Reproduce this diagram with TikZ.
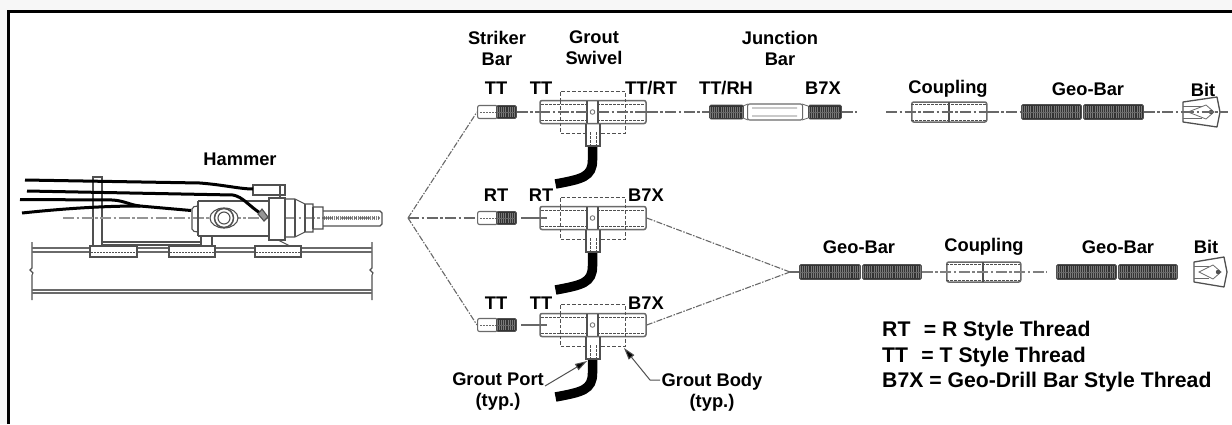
\documentclass[tikz,border=0pt]{standalone}
\usepackage{fontspec}
\setmainfont{Liberation Sans}
\usetikzlibrary{arrows.meta}
\definecolor{ln}{HTML}{505050}
\definecolor{cl}{HTML}{686868}
\tikzset{
  lbl/.style={font=\fontsize{18.3}{21}\selectfont\bfseries,inner sep=0pt,align=center,text=black},
  legend/.style={font=\fontsize{21.2}{25}\selectfont\bfseries,inner sep=0pt,anchor=west,text=black},
  hw/.style={draw=ln,line width=1.1pt},
  thin hw/.style={draw=ln!85,line width=0.8pt},
  hid/.style={draw=ln,line width=0.9pt,dash pattern=on 3.5pt off 2pt},
  center line/.style={draw=cl,line width=1.1pt,dash pattern=on 11pt off 2.5pt on 2.5pt off 2.5pt},
  fork line/.style={draw=cl,line width=1.1pt,dash pattern=on 6pt off 1.5pt on 1.5pt off 1.5pt},
  leader/.style={draw=ln,line width=1pt,-{Triangle[length=12pt,width=7pt,fill=black]}},
  hose/.style={draw=black,line width=9.5pt},
  cable/.style={draw=black,line width=3pt},
  barbody/.style={rectangle,draw=ln!85,fill=white,line width=1.5pt,rounded corners=2pt,inner sep=0pt},
  threadbody/.style={rectangle,draw=ln,fill=black!80,line width=0.9pt,rounded corners=1.5pt,inner sep=0pt},
}
\newcommand{\threadrun}[5]{%
  \node[threadbody,minimum width=#3pt-#2pt,minimum height=#5pt,anchor=west] (#1) at (#2,#4) {};
  \draw[draw=white!48!black,line width=#5pt-3pt,dash pattern=on 0.8pt off 1.3pt] (#2+1,#4) -- (#3-1,#4);
  \draw[draw=black!60,line width=0.6pt] (#2+1,#4) -- (#3-1,#4);
}
\newcommand{\strikerbar}[2]{%
  \node[barbody,line width=1.1pt,minimum width=20pt,minimum height=13pt,anchor=west] (#1) at (477,#2) {};
  \draw[thin hw,dash pattern=on 2pt off 1pt] (480,#2) -- (496,#2);
  \threadrun{#1t}{496}{516}{#2}{13}
}
\newcommand{\swivel}[2]{%
  \node[barbody,minimum width=106pt,minimum height=23pt] (#1) at (593,#2) {};
  \begin{scope}[shift={(0,#2)}]
    \draw[hid,dash pattern=on 3pt off 1pt] (541,-8) -- (645,-8) (541,8) -- (645,8);
    \fill[white] (587,-10) rectangle (598,10);
    \draw[hid] (560,-11) -- (560,-21) -- (625,-21) -- (625,21) -- (600,21) (586,21) -- (560,21) -- (560,-11);
    \fill[white] (588,-10) rectangle (597,10);
    \draw[hw,line width=1.2pt] (587,-11) -- (587,11) (598,-11) -- (598,11);
    \draw[thin hw] (592.5,0) circle (2.3);
    \draw[hw] (586,11.5) -- (586,34) -- (600,34) -- (600,11.5);
    \draw[hid,line width=0.7pt,dash pattern=on 2.5pt off 1.5pt] (590,20) -- (590,34) (596,20) -- (596,34);
    \draw[hose] (592.5,35) -- (592.5,48) .. controls (592.5,65) and (582,67) .. (555.5,72);
  \end{scope}
}
\newcommand{\couplingpart}[4]{%
  \node[barbody,minimum width=#3pt-#2pt,minimum height=20pt,anchor=west] (#1) at (#2,#4) {};
  \draw[hid,dash pattern=on 3pt off 1pt] (#2,#4-8) -- (#3,#4-8) (#2,#4+8) -- (#3,#4+8);
  \draw[draw=ln,line width=2pt] ({(#2+#3)/2},#4-10) -- ({(#2+#3)/2},#4+10);
}
\newcommand{\drillbit}[4]{%
  \begin{scope}[shift={(#2,#4)}]
    \coordinate (#1) at (0,0);
    \draw[hw,line width=1.3pt,fill=white,line join=round] (0,-10) -- ({#3-#2-3},-15) -- ({#3-#2},0) -- ({#3-#2-3},15) -- (0,10) -- cycle;
    \draw[thin hw] (5,0) -- ({#3-#2-14},-7) -- ({#3-#2-6},0) -- ({#3-#2-14},7) -- cycle;
    \draw[thin hw] (0,-6) -- ({#3-#2-18},-6) (0,6) -- ({#3-#2-18},6);
    \fill[ln] ({#3-#2-9},0) circle (2.2);
  \end{scope}
}
\begin{document}
\begin{tikzpicture}[x=1pt,y=-1pt]
\useasboundingbox (0,0) rectangle (1232,424);
\fill[black!3] (0,0) rectangle (1232,424);
\fill[white] (8,11) rectangle (1232,424);
\draw[black,line width=3pt] (8.5,424) -- (8.5,11) -- (1232,11);

% ---- hammer ----
\coordinate (hub) at (408,218);
\draw[hw] (32,242) -- (32,268) -- (30,270) -- (33,273) -- (32,275) -- (32,300);
\draw[hw] (372,242) -- (372,268) -- (370,270) -- (373,273) -- (372,275) -- (372,300);
\draw[hw,draw=ln!85] (32,248) -- (372,248) (32,252) -- (372,252);
\draw[hw,draw=ln!85] (32,290) -- (372,290) (32,293) -- (372,293);
\draw[hw,fill=white] (90,246) rectangle (137,257);
\draw[hw,fill=white] (169,246) rectangle (215,257);
\draw[hw,fill=white] (255,246) rectangle (301,257);
\draw[hid,line width=0.7pt,dash pattern=on 2pt off 1pt] (91,252) -- (136,252) (170,252) -- (214,252) (256,252) -- (300,252);
\draw[hw,fill=white] (93,177) rectangle (102,246);
\draw[hw] (102,242) -- (202,242) (102,245) -- (202,245);
\draw[hw,fill=white] (201,236) rectangle (212,246);
\draw[center line,draw=cl!70] (63,218) -- (380,218);
\draw[hw] (253,185) rectangle (285,195);
\draw[hw] (198,201) -- (270,201) (198,236) -- (270,236);
\draw[hw,rounded corners=2pt] (198,206) -- (192,207) -- (192,231) -- (198,232);
\draw[hw] (198,201) -- (198,236);
\draw[hw,fill=white] (269,198) rectangle (285,240);
\draw[hw] (280,185) -- (280,198);
\draw[hw] (285,199) -- (295,199) -- (305,204) -- (313,204) -- (313,207) -- (323,207) -- (323,229) -- (313,229) -- (313,232) -- (305,232) -- (295,237) -- (285,237);
\draw[hw] (295,199) -- (295,237) (305,204) -- (305,232) (313,207) -- (313,229);
\draw[hw] (323,211) -- (380,211) -- (382,213) -- (382,224) -- (380,226) -- (323,226);
\draw[ln,line width=4pt,dash pattern=on 1pt off 1pt,draw opacity=.7] (324,218) -- (380,218);
\draw[hw] (278,240) -- (290,246);
\draw[hw,fill=white] (224,218) ellipse (14 and 10);
\draw[hw,line width=1.5pt] (224,218) circle (9.5);
\draw[hw] (224,218) circle (6);
\draw[cable] (25,180) -- (200,183) .. controls (225,185) and (240,189) .. (253,189);
\draw[cable] (27,191) -- (233,195) .. controls (243,197) and (248,205) .. (260,213);
\draw[hw,fill=ln!60] (258,214) -- (262,209) -- (268,217) -- (264,221) -- cycle;
\draw[cable] (20,199.5) -- (113,200) .. controls (125,201) and (130,205) .. (140,206) -- (191,210.5);
\draw[cable] (22,213) .. controls (60,209) and (100,206) .. (140,206);

% ---- top row ----
\strikerbar{sa}{112}
\swivel{sw1}{112}
\threadrun{ja}{709}{743}{112}{14}
\node[barbody,line width=1.1pt,minimum width=55pt,minimum height=16pt,anchor=west] (jm) at (747,112) {};
\draw[thin hw] (743,106) -- (748,104) (802,104) -- (808,106) (743,118) -- (748,120) (802,120) -- (808,118) (752,108) -- (797,108) (752,116) -- (797,116);
\threadrun{jb}{808}{841}{112}{14}
\coordinate (je) at (857,112);
\coordinate (cs) at (886,112);
\couplingpart{cp1}{911}{986}{112}
\threadrun{gb1}{1021}{1081}{112}{15}
\threadrun{gb2}{1083}{1143}{112}{15}
\drillbit{bit1}{1183}{1220}{112}
\coordinate (be1) at (1228,112);

% ---- middle & bottom rows ----
\strikerbar{sb}{218}
\swivel{sw2}{218}
\strikerbar{sc}{325}
\swivel{sw3}{325}
\coordinate (sbs) at (521,218);
\coordinate (scs) at (521,325);
\coordinate (sw2i) at (547,218);
\coordinate (sw3i) at (547,325);

\coordinate (fork) at (790,272);
\threadrun{gb3}{799}{860}{272}{15}
\threadrun{gb4}{862}{921}{272}{15}
\couplingpart{cp2}{946}{1020}{272}
\coordinate (ce2) at (1047,272);
\threadrun{gb5}{1056}{1116}{272}{15}
\threadrun{gb6}{1118}{1177}{272}{15}
\drillbit{bit2}{1194}{1227}{272}

% ---- connectors ----
\draw[fork line] (hub) -- (sa.west);
\draw[fork line] (hub) -- (sc.west);
\draw[center line] (hub) -- (sb.west);
\draw[center line] (sat.east) -- (sw1.west);
\draw[center line] (sw1.west) -- (587,112);
\draw[center line] (598,112) -- (sw1.east);
\draw[center line] (sw1.east) -- (ja.west);
\draw[center line] (jb.east) -- (je);
\draw[center line] (cs) -- (cp1.east);
\draw[center line] (cp1.east) -- (gb1.west);
\draw[center line] (gb2.east) -- (bit1);
\draw[center line] (bit1) -- (be1);
\draw[hw,draw=cl] (sbs) -- (sw2i);
\draw[hw,draw=cl] (scs) -- (sw3i);
\draw[fork line] (sw2.east) -- (fork);
\draw[fork line] (sw3.east) -- (fork);
\draw[hw,draw=cl] (fork) -- (gb3.west);
\draw[center line,draw=gray,line width=1.4pt] (gb4.east) -- (ce2);

% ---- labels ----
\node[lbl] (t1) at (497,48) {Striker\\Bar};
\node[lbl] (t2) at (594,48) {Grout\\Swivel};
\node[lbl] (t3) at (780,48) {Junction\\Bar};
\node[lbl] (h) at (240,159) {Hammer};
\node[lbl] (a1) at (496,88) {TT};
\node[lbl] (a2) at (541,88) {TT};
\node[lbl] (a3) at (651,88) {TT/RT};
\node[lbl] (a4) at (726,88) {TT/RH};
\node[lbl] (a5) at (823,88) {B7X};
\node[lbl] (a6) at (948,89) {Coupling};
\node[lbl] (a7) at (1088,89) {Geo-Bar};
\node[lbl] (a8) at (1203,90) {Bit};
\node[lbl] (b1) at (496,195) {RT};
\node[lbl] (b2) at (541,195) {RT};
\node[lbl] (b3) at (646,195) {B7X};
\node[lbl] (c1) at (496,303) {TT};
\node[lbl] (c2) at (541,303) {TT};
\node[lbl] (c3) at (646,303) {B7X};
\node[lbl] (d1) at (859,247) {Geo-Bar};
\node[lbl] (d2) at (984,247) {Coupling};
\node[lbl] (d3) at (1118,247) {Geo-Bar};
\node[lbl] (d4) at (1206,247) {Bit};
\node[lbl] (gp) at (498,392) {Grout Port\\(typ.)};
\node[lbl] (gb) at (712,392) {Grout Body\\(typ.)};
\coordinate (gps) at (545,386);
\coordinate (gbs) at (660,380);
\coordinate (gbk) at (650,380);
\coordinate (gpt) at (587,361);
\coordinate (gbt) at (624,348);
\draw[leader] (gps) -- (gpt);
\draw[leader] (gbs) -- (gbk) -- (gbt);
\node[legend] (l1) at (882,331) {RT\hspace{0.35em} = R Style Thread};
\node[legend] (l2) at (882,357) {TT\hspace{0.35em} = T Style Thread};
\node[legend] (l3) at (882,382) {B7X = Geo-Drill Bar Style Thread};
\end{tikzpicture}
\end{document}
